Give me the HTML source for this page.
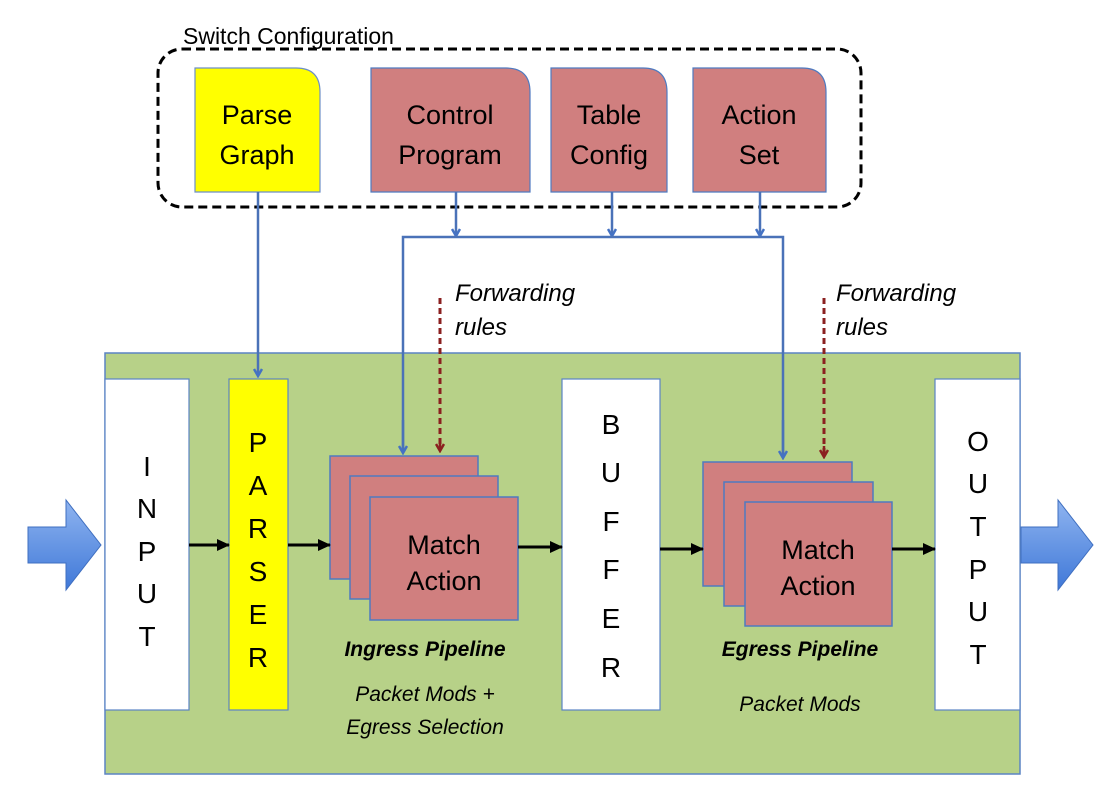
<!DOCTYPE html>
<html><head><meta charset="utf-8"><style>
html,body{margin:0;padding:0;background:#fff;width:1106px;height:812px;overflow:hidden}
svg text{font-family:"Liberation Sans",sans-serif;}
</style></head><body>
<svg width="1106" height="812" viewBox="0 0 1106 812" xmlns="http://www.w3.org/2000/svg">
<defs>
<marker id="bl" markerWidth="10" markerHeight="10" refX="8" refY="5" orient="auto" markerUnits="userSpaceOnUse"><path d="M1,1 L8,5 L1,9" fill="none" stroke="#4472c4" stroke-width="2.5"/></marker>
<marker id="rd" markerWidth="10" markerHeight="10" refX="8" refY="5" orient="auto" markerUnits="userSpaceOnUse"><path d="M1,1 L8,5 L1,9" fill="none" stroke="#8b2020" stroke-width="2.5"/></marker>
<marker id="bk" markerWidth="14" markerHeight="14" refX="12" refY="7" orient="auto" markerUnits="userSpaceOnUse"><path d="M0,1 L13,7 L0,13 Z" fill="#000"/></marker>
<linearGradient id="ga" x1="0" y1="0" x2="0" y2="1"><stop offset="0" stop-color="#8fb4f0"/><stop offset="1" stop-color="#3f78d8"/></linearGradient>
</defs>
<text x="183" y="44" font-size="23" fill="#000">Switch Configuration</text>
<rect x="158" y="49" width="703" height="158" rx="24" fill="none" stroke="#000" stroke-width="3" stroke-dasharray="9,5"/>
<path d="M195,68 H296 Q320,68 320,92 V192 H195 Z" fill="#ffff00" stroke="#6d8fc7" stroke-width="1.2"/>
<path d="M371,68 H506 Q530,68 530,92 V192 H371 Z" fill="#d07f7f" stroke="#4f7ac0" stroke-width="1.2"/>
<path d="M551,68 H643 Q667,68 667,92 V192 H551 Z" fill="#d07f7f" stroke="#4f7ac0" stroke-width="1.2"/>
<path d="M693,68 H802 Q826,68 826,92 V192 H693 Z" fill="#d07f7f" stroke="#4f7ac0" stroke-width="1.2"/>
<g font-size="27" text-anchor="middle" fill="#000">
<text x="257" y="124">Parse</text><text x="257" y="164">Graph</text>
<text x="450" y="124">Control</text><text x="450" y="164">Program</text>
<text x="609" y="124">Table</text><text x="609" y="164">Config</text>
<text x="759" y="124">Action</text><text x="759" y="164">Set</text>
</g>
<rect x="105" y="353" width="915" height="421" fill="#b7d188" stroke="#5b84c4" stroke-width="1.5"/>
<g stroke="#4a72b8" stroke-width="2.5" fill="none">
<line x1="258" y1="192" x2="258" y2="376" marker-end="url(#bl)"/>
<line x1="456" y1="192" x2="456" y2="236" marker-end="url(#bl)"/>
<line x1="612" y1="192" x2="612" y2="236" marker-end="url(#bl)"/>
<line x1="760" y1="192" x2="760" y2="236" marker-end="url(#bl)"/>
<polyline points="403,453 403,237 783,237 783,458" />
<line x1="403" y1="420" x2="403" y2="453" marker-end="url(#bl)"/>
<line x1="783" y1="420" x2="783" y2="458" marker-end="url(#bl)"/>
</g>
<g stroke="#8b2020" stroke-width="3" fill="none" stroke-dasharray="6,4">
<line x1="440" y1="298" x2="440" y2="450"/>
<line x1="824" y1="298" x2="824" y2="456"/>
</g>
<line x1="440" y1="440" x2="440" y2="451" stroke="#8b2020" stroke-width="2.5" marker-end="url(#rd)"/>
<line x1="824" y1="446" x2="824" y2="457" stroke="#8b2020" stroke-width="2.5" marker-end="url(#rd)"/>
<g font-size="24" font-style="italic" fill="#000">
<text x="455" y="301">Forwarding</text><text x="455" y="335">rules</text>
<text x="836" y="301">Forwarding</text><text x="836" y="335">rules</text>
</g>
<rect x="105" y="379" width="84" height="331" fill="#fff" stroke="#5b84c4" stroke-width="1.2"/>
<rect x="229" y="379" width="59" height="331" fill="#ffff00" stroke="#5b84c4" stroke-width="1.2"/>
<rect x="562" y="379" width="98" height="331" fill="#fff" stroke="#5b84c4" stroke-width="1.2"/>
<rect x="935" y="379" width="85" height="331" fill="#fff" stroke="#5b84c4" stroke-width="1.2"/>
<g font-size="28" text-anchor="middle" fill="#000">
<text x="147" y="476">I</text><text x="147" y="518">N</text><text x="147" y="561">P</text><text x="147" y="603">U</text><text x="147" y="646">T</text>
<text x="258" y="452">P</text><text x="258" y="495">A</text><text x="258" y="538">R</text><text x="258" y="581">S</text><text x="258" y="624">E</text><text x="258" y="667">R</text>
<text x="611" y="434">B</text><text x="611" y="482">U</text><text x="611" y="531">F</text><text x="611" y="579">F</text><text x="611" y="628">E</text><text x="611" y="677">R</text>
<text x="978" y="451">O</text><text x="978" y="493">U</text><text x="978" y="536">T</text><text x="978" y="579">P</text><text x="978" y="621">U</text><text x="978" y="664">T</text>
</g>
<g fill="#d07f7f" stroke="#4f7ac0" stroke-width="1.5">
<rect x="330" y="456" width="148" height="123"/>
<rect x="350" y="476" width="148" height="123"/>
<rect x="370" y="497" width="148" height="123"/>
<rect x="703" y="462" width="149" height="124"/>
<rect x="724" y="482" width="149" height="124"/>
<rect x="745" y="502" width="147" height="124"/>
</g>
<g font-size="27" text-anchor="middle" fill="#000">
<text x="444" y="554">Match</text><text x="444" y="590">Action</text>
<text x="818" y="559">Match</text><text x="818" y="595">Action</text>
</g>
<g stroke="#000" stroke-width="3">
<line x1="189" y1="545" x2="229" y2="545" marker-end="url(#bk)"/>
<line x1="288" y1="545" x2="330" y2="545" marker-end="url(#bk)"/>
<line x1="518" y1="547" x2="562" y2="547" marker-end="url(#bk)"/>
<line x1="660" y1="549" x2="703" y2="549" marker-end="url(#bk)"/>
<line x1="892" y1="549" x2="935" y2="549" marker-end="url(#bk)"/>
</g>
<path d="M28,527 H66 V500 L101,545 L66,590 V563 H28 Z" fill="url(#ga)" stroke="#3f6fc0" stroke-width="1"/>
<path d="M1021,527 H1058 V500 L1093,545 L1058,590 V563 H1021 Z" fill="url(#ga)" stroke="#3f6fc0" stroke-width="1"/>
<g font-size="21" font-style="italic" text-anchor="middle" fill="#000">
<text x="425" y="656" font-weight="bold">Ingress Pipeline</text>
<text x="425" y="701">Packet Mods +</text>
<text x="425" y="734">Egress Selection</text>
<text x="800" y="656" font-weight="bold">Egress Pipeline</text>
<text x="800" y="711">Packet Mods</text>
</g>
</svg>
</body></html>
